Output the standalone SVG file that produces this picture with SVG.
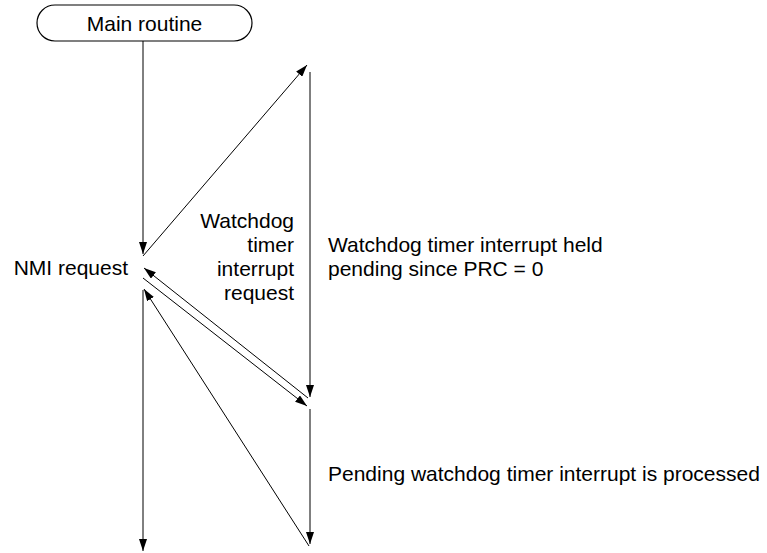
<svg xmlns="http://www.w3.org/2000/svg" width="767" height="553" viewBox="0 0 767 553">
<style>
text{font-family:"Liberation Sans",Arial,sans-serif;font-size:21px;fill:#000}
.ln{stroke:#000;stroke-width:1;fill:none}
.ar{marker-end:url(#ah)}
</style>
<defs>
<marker id="ah" viewBox="0 0 12 8" refX="12" refY="4" markerWidth="12" markerHeight="8" markerUnits="userSpaceOnUse" orient="auto">
<path d="M0,0 L12,4 L0,8 Z" fill="#000"/>
</marker>
</defs>
<rect width="767" height="553" fill="#fff"/>
<g id="main-routine">
<rect x="37" y="5" width="215" height="36" rx="18" ry="18" fill="#fff" stroke="#000" stroke-width="1.2"/>
<text x="144.5" y="31" text-anchor="middle">Main routine</text>
</g>
<g id="nmi-label"><text x="128" y="275" text-anchor="end">NMI request</text></g>
<g id="wdt-request-label">
<text x="294" y="228" text-anchor="end">Watchdog</text>
<text x="294" y="252" text-anchor="end">timer</text>
<text x="294" y="276" text-anchor="end">interrupt</text>
<text x="294" y="300" text-anchor="end">request</text>
</g>
<g id="held-label">
<text x="328" y="252">Watchdog timer interrupt held</text>
<text x="328" y="276">pending since PRC = 0</text>
</g>
<g id="processed-label"><text x="328" y="481">Pending watchdog timer interrupt is processed</text></g>
<g id="connectors">
<line class="ln ar" x1="143" y1="41" x2="143" y2="254"/>
<line class="ln ar" x1="143" y1="256" x2="307" y2="65"/>
<line class="ln ar" x1="310" y1="72" x2="310" y2="397"/>
<line class="ln ar" x1="308" y1="398" x2="144" y2="268"/>
<line class="ln ar" x1="143" y1="278" x2="307" y2="406"/>
<line class="ln ar" x1="310" y1="409" x2="310" y2="544"/>
<line class="ln ar" x1="309" y1="546" x2="144" y2="289"/>
<line class="ln ar" x1="143" y1="290" x2="143" y2="551"/>
</g>
</svg>
